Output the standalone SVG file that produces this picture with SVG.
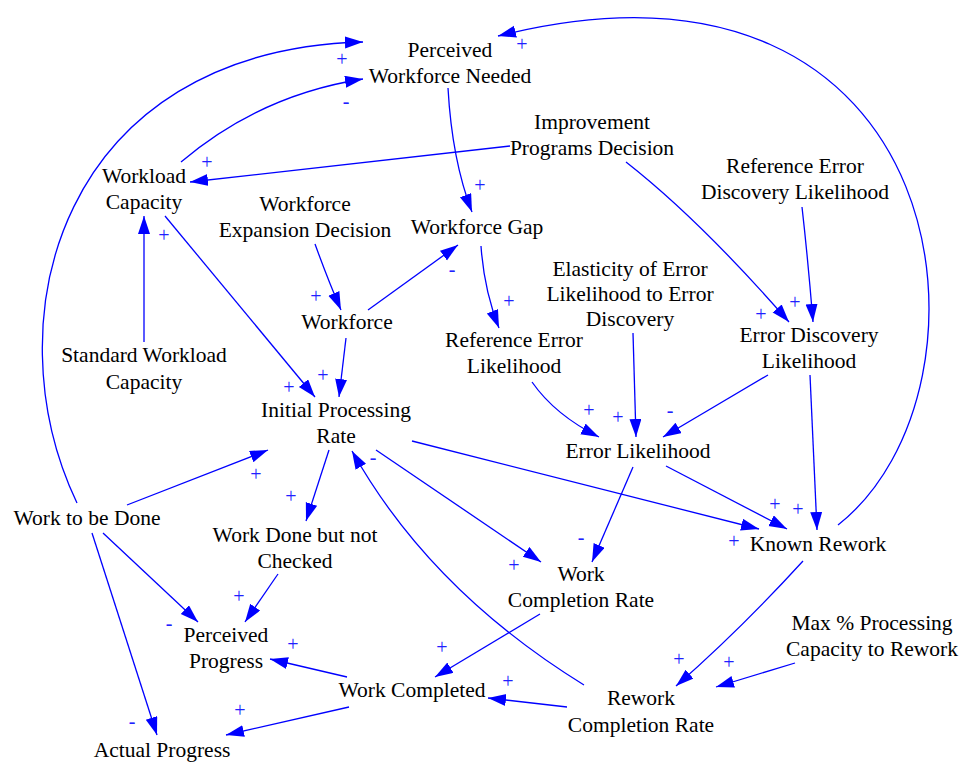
<svg xmlns="http://www.w3.org/2000/svg" width="960" height="763" viewBox="0 0 960 763">
<style>
.n text{font-family:'Liberation Serif','Times New Roman',Times,serif;font-size:21.5px;fill:#000;text-anchor:middle}
.e path{fill:none;stroke:#0000ff;stroke-width:1.3;marker-end:url(#ah)}
.s text{font-family:'Liberation Serif','Times New Roman',Times,serif;font-size:20px;fill:#2020ff;text-anchor:middle}
.t text{font-family:'DejaVu Serif',serif}
</style>
<defs>
<marker id="ah" markerUnits="userSpaceOnUse" markerWidth="20" markerHeight="14" refX="18" refY="6" orient="auto">
<path d="M0,0 L18,6 L0,12 z" fill="#0000ff"/>
</marker>
</defs>
<rect width="960" height="763" fill="#fff"/>
<g class="e" id="connectors">
<path d="M77,503 C-10,320 60,50 363,42"/>
<path d="M181,162 Q260,95 363,79"/>
<path d="M510,146 L190,182"/>
<path d="M626,162 Q700,220 789,322"/>
<path d="M802,207 Q808,260 813,322"/>
<path d="M838,525 C1010,390 960,-80 498,36"/>
<path d="M448,88 Q452,160 472,212"/>
<path d="M315,244 Q328,280 341,310"/>
<path d="M368,310 L458,245"/>
<path d="M481,246 Q484,290 499,328"/>
<path d="M165,216 L315,397"/>
<path d="M144,342 L144,216"/>
<path d="M346,338 L339,397"/>
<path d="M127,505 L268,450"/>
<path d="M329,450 L306,521"/>
<path d="M584,685 Q430,590 352,451"/>
<path d="M376,450 L541,562"/>
<path d="M412,441 L759,529"/>
<path d="M633,467 L592,562"/>
<path d="M666,466 L787,529"/>
<path d="M810,375 L817,530"/>
<path d="M532,382 Q555,415 599,437"/>
<path d="M633,333 L636,437"/>
<path d="M768,375 L663,437"/>
<path d="M803,561 Q740,630 676,686"/>
<path d="M795,663 L716,687"/>
<path d="M540,614 L435,677"/>
<path d="M567,707 L488,698"/>
<path d="M347,677 L270,659"/>
<path d="M349,707 L226,735"/>
<path d="M103,533 L198,622"/>
<path d="M92,533 L157,735"/>
<path d="M278,574 L245,622"/>
</g>
<g class="s" id="polarities">
<text x="342" y="66">+</text>
<text x="346" y="108">-</text>
<text x="207" y="169">+</text>
<text x="522" y="51">+</text>
<text x="480" y="192">+</text>
<text x="761" y="321">+</text>
<text x="795" y="309">+</text>
<text x="316" y="303">+</text>
<text x="452" y="276">-</text>
<text x="509" y="308">+</text>
<text x="289" y="394">+</text>
<text x="164" y="242">+</text>
<text x="323" y="382">+</text>
<text x="256" y="481">+</text>
<text x="291" y="503">+</text>
<text x="373" y="464">-</text>
<text x="514" y="572">+</text>
<text x="734" y="548">+</text>
<text x="581" y="544">-</text>
<text x="775" y="511">+</text>
<text x="798" y="516">+</text>
<text x="589" y="417">+</text>
<text x="618" y="424">+</text>
<text x="670" y="417">-</text>
<text x="679" y="666">+</text>
<text x="729" y="669">+</text>
<text x="442" y="654">+</text>
<text x="508" y="688">+</text>
<text x="293" y="651">+</text>
<text x="240" y="717">+</text>
<text x="169" y="630">-</text>
<text x="132" y="728">-</text>
<text x="239" y="603">+</text>
</g>
<g class="n" id="perceived-workforce-needed"><text x="450" y="57">Perceived</text><text x="450" y="83">Workforce Needed</text></g>
<g class="n" id="improvement-programs-decision"><text x="592" y="129">Improvement</text><text x="592" y="155">Programs Decision</text></g>
<g class="n" id="reference-error-discovery-likelihood"><text x="795" y="173">Reference Error</text><text x="795" y="199">Discovery Likelihood</text></g>
<g class="n" id="workload-capacity"><text x="144" y="183">Workload</text><text x="144" y="209">Capacity</text></g>
<g class="n" id="workforce-expansion-decision"><text x="305" y="211">Workforce</text><text x="305" y="237">Expansion Decision</text></g>
<g class="n" id="workforce-gap"><text x="477" y="234">Workforce Gap</text></g>
<g class="n" id="workforce"><text x="347" y="329">Workforce</text></g>
<g class="n" id="standard-workload-capacity"><text x="144" y="362">Standard Workload</text><text x="144" y="389">Capacity</text></g>
<g class="n" id="initial-processing-rate"><text x="336" y="417">Initial Processing</text><text x="336" y="443">Rate</text></g>
<g class="n" id="elasticity"><text x="630" y="276">Elasticity of Error</text><text x="630" y="301">Likelihood to Error</text><text x="630" y="326">Discovery</text></g>
<g class="n" id="reference-error-likelihood"><text x="514" y="347">Reference Error</text><text x="514" y="373">Likelihood</text></g>
<g class="n" id="error-discovery-likelihood"><text x="809" y="342">Error Discovery</text><text x="809" y="368">Likelihood</text></g>
<g class="n" id="error-likelihood"><text x="638" y="458">Error Likelihood</text></g>
<g class="n" id="work-to-be-done"><text x="87" y="525">Work to be Done</text></g>
<g class="n" id="work-done-not-checked"><text x="295" y="542">Work Done but not</text><text x="295" y="568">Checked</text></g>
<g class="n" id="perceived-progress"><text x="226" y="642">Perceived</text><text x="226" y="668">Progress</text></g>
<g class="n" id="work-completed"><text x="412" y="697">Work Completed</text></g>
<g class="n" id="actual-progress"><text x="162" y="757">Actual Progress</text></g>
<g class="n" id="known-rework"><text x="818" y="551">Known Rework</text></g>
<g class="n" id="work-completion-rate"><text x="581" y="581">Work</text><text x="581" y="607">Completion Rate</text></g>
<g class="n" id="max-processing-capacity"><text x="872" y="630">Max % Processing</text><text x="872" y="656">Capacity to Rework</text></g>
<g class="n" id="rework-completion-rate"><text x="641" y="705">Rework</text><text x="641" y="732">Completion Rate</text></g>
</svg>
